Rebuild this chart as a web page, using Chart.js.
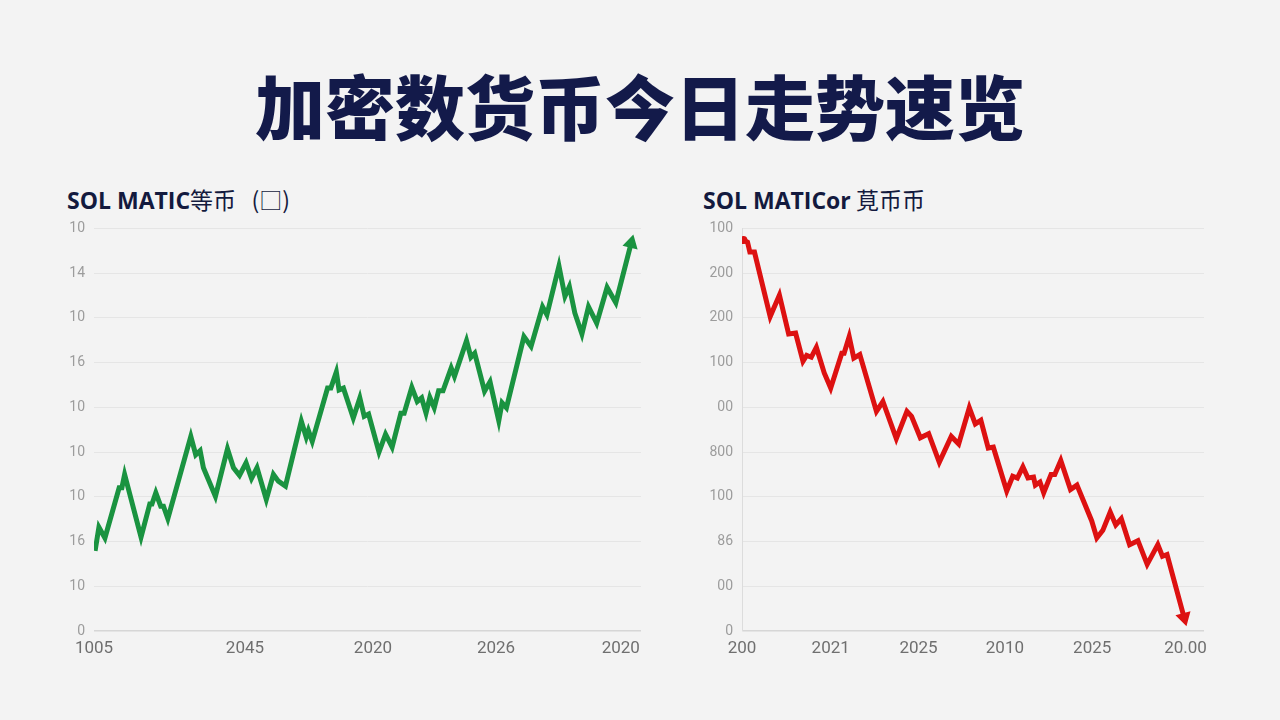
<!DOCTYPE html>
<html lang="zh-CN">
<head>
<meta charset="utf-8">
<title>加密数货币今日走势速览</title>
<script src="https://cdn.jsdelivr.net/npm/chart.js@4.4.0/dist/chart.umd.min.js"></script>
<style>
  html, body { margin: 0; padding: 0; }
  body {
    width: 1280px; height: 720px; background: #f3f3f3;
    position: relative; overflow: hidden;
    font-family: "Noto Sans CJK SC", "Noto Sans", sans-serif;
  }
  #headline {
    position: absolute; left: 0; top: 67px; width: 1280px;
    text-align: center; font-size: 70px; line-height: 76px;
    font-weight: 900; color: #131a4a;
  }
  .sub {
    position: absolute; top: 184px; font-size: 23px; line-height: 30px;
    color: #131a3e; white-space: pre;
  }
  .sub b { font-family: "Open Sans", sans-serif; font-weight: 700; }
  .sub span { font-family: "Noto Sans CJK SC", sans-serif; font-weight: 400; }
  .box { position: absolute; }
</style>
</head>
<body>
<div id="headline">加密数货币今日走势速览</div>
<div class="sub" style="left:67px"><b>SOL MATIC</b><span>等币   (□)</span></div>
<div class="sub" style="left:703px"><b>SOL MATICor</b><span> 莧币币</span></div>

<div class="box" style="left:60px; top:211px; width:590px; height:465px;"><canvas id="leftChart"></canvas></div>
<div class="box" style="left:702px; top:211px; width:511px; height:465px;"><canvas id="rightChart"></canvas></div>

<script>
// 左: 上昇 (緑)
const greenX = [0.2, 0.9, 2.0, 4.6, 5.1, 5.6, 8.6, 10.2, 10.6, 11.3, 12.2, 12.7, 13.5, 17.7, 18.6, 19.4, 20.0, 22.2,
  24.4, 25.5, 26.6, 27.8, 28.8, 29.8, 31.5, 32.8, 33.7, 35.0, 37.9, 38.8, 39.2, 39.9, 42.7, 43.3, 44.3, 44.8, 45.6,
  47.4, 48.6, 49.4, 50.2, 52.1, 53.3, 54.5, 56.1, 56.7, 58.1, 59.1, 59.9, 60.7, 61.4, 62.2, 63.0, 63.8, 65.3, 65.9,
  68.1, 68.9, 69.6, 71.4, 72.4, 74.0, 74.6, 75.4, 78.6, 79.9, 82.0, 82.8, 85.0, 86.1, 86.9, 87.9, 89.2, 90.4, 91.9,
  93.8, 95.4, 98.2];
const greenY = [1.79, 2.32, 2.08, 3.2, 3.2, 3.5, 2.1, 2.84, 2.84, 3.09, 2.79, 2.79, 2.51, 4.35, 3.94, 4.03, 3.65, 3.01,
  4.07, 3.65, 3.48, 3.76, 3.41, 3.65, 2.94, 3.5, 3.35, 3.24, 4.69, 4.33, 4.48, 4.24, 5.43, 5.43, 5.79, 5.39, 5.43,
  4.76, 5.21, 4.8, 4.85, 4.0, 4.4, 4.11, 4.87, 4.87, 5.45, 5.13, 5.21, 4.87, 5.22, 4.99, 5.37, 5.37, 5.88, 5.69,
  6.49, 6.12, 6.21, 5.36, 5.57, 4.7, 5.1, 4.99, 6.58, 6.36, 7.25, 7.07, 8.16, 7.48, 7.7, 7.11, 6.64, 7.25, 6.88,
  7.68, 7.34, 8.67];

// 右: 下落 (赤)
const redX = [0.3, 1.2, 1.7, 2.7, 6.1, 8.1, 10.1, 11.6, 13.2, 14.0, 15.0, 16.1, 17.8, 19.2, 21.6, 22.1, 23.2, 24.2,
  25.5, 29.1, 30.5, 33.4, 35.7, 36.7, 38.6, 40.4, 42.7, 45.3, 46.9, 49.2, 50.5, 51.7, 53.3, 54.4, 57.3, 58.6, 59.6,
  60.8, 61.9, 63.1, 63.5, 64.5, 65.3, 66.9, 67.7, 69.0, 71.1, 72.5, 75.7, 76.8, 78.1, 79.7, 80.9, 82.1, 83.9, 85.7,
  87.7, 90.0, 91.0, 92.0, 95.7];
const redY = [8.74, 8.69, 8.47, 8.47, 7.03, 7.51, 6.64, 6.66, 6.03, 6.16, 6.12, 6.34, 5.77, 5.43, 6.21, 6.21, 6.58, 6.10,
  6.18, 4.91, 5.13, 4.30, 4.91, 4.80, 4.32, 4.41, 3.77, 4.35, 4.18, 4.99, 4.63, 4.71, 4.09, 4.11, 3.13, 3.46, 3.42,
  3.67, 3.42, 3.44, 3.26, 3.33, 3.09, 3.50, 3.50, 3.81, 3.16, 3.26, 2.46, 2.08, 2.25, 2.66, 2.37, 2.51, 1.93, 2.02,
  1.49, 1.93, 1.67, 1.71, 0.30];

// 軸ラベル (下から上へ)
const leftYLabels = ['0', '10', '16', '10', '10', '10', '16', '10', '14', '10'];
const rightYLabels = ['0', '00', '86', '100', '800', '00', '100', '200', '200', '100'];
const leftXTicks = [0, 27.6, 51.0, 73.5, 96.3];
const leftXLabels = ['1005', '2045', '2020', '2026', '2020'];
const rightXTicks = [0, 19.2, 38.2, 56.9, 75.8, 96.0];
const rightXLabels = ['200', '2021', '2025', '2010', '2025', '20.00'];

function drawLine(canvasId, xs, ys, color, yLabels, xTicks, xLabels, yWidth, leftBorder, arrowRot, startDot) {
    const last = xs.length - 1;
    const points = xs.map((x, i) => ({ x: x, y: ys[i] }));
    return new Chart(document.getElementById(canvasId), {
        type: 'line',
        data: {
            datasets: [{
                data: points,
                borderColor: color,
                backgroundColor: color,
                borderWidth: 5,
                tension: 0,
                borderJoinStyle: 'miter',
                pointStyle: (ctx) => ctx.dataIndex === last ? 'triangle' : 'circle',
                pointRadius: (ctx) => ctx.dataIndex === last ? 7 : (startDot && ctx.dataIndex === 0 ? 3 : 0),
                pointRotation: (ctx) => ctx.dataIndex === last ? arrowRot : 0,
                pointBorderWidth: 2,
                pointHoverRadius: 0
            }]
        },
        options: {
            responsive: true,
            maintainAspectRatio: false,
            animation: false,
            layout: { padding: { top: 5, right: 9, bottom: 0, left: 0 } },
            plugins: { legend: { display: false }, tooltip: { enabled: false } },
            scales: {
                x: {
                    type: 'linear', min: 0, max: 100,
                    grid: { display: false },
                    border: { display: false },
                    afterBuildTicks: (scale) => { scale.ticks = xTicks.map(v => ({ value: v })); },
                    afterFit: (scale) => { scale.height = 45; },
                    ticks: {
                        autoSkip: false, maxRotation: 0, padding: 0,
                        color: '#6f6f6f',
                        font: { family: 'Roboto', size: 17 },
                        callback: (value, index) => xLabels[index]
                    }
                },
                y: {
                    min: 0, max: 9,
                    grid: {
                        drawTicks: false,
                        color: (ctx) => ctx.tick && ctx.tick.value === 0 ? '#d6d6d6' : '#e5e5e5',
                        lineWidth: (ctx) => ctx.tick && ctx.tick.value === 0 ? 1.5 : 1
                    },
                    border: { display: leftBorder, color: '#dcdcdc' },
                    afterFit: (scale) => { scale.width = yWidth; },
                    ticks: {
                        stepSize: 1, padding: 9,
                        color: '#9c9c9c',
                        font: { family: 'Roboto', size: 14 },
                        callback: (value) => yLabels[value]
                    }
                }
            }
        }
    });
}

drawLine('leftChart', greenX, greenY, '#1a9340', leftYLabels, leftXTicks, leftXLabels, 34, false, 14, false);
drawLine('rightChart', redX, redY, '#dd1111', rightYLabels, rightXTicks, rightXLabels, 40, true, 165, true);
</script>
</body>
</html>
